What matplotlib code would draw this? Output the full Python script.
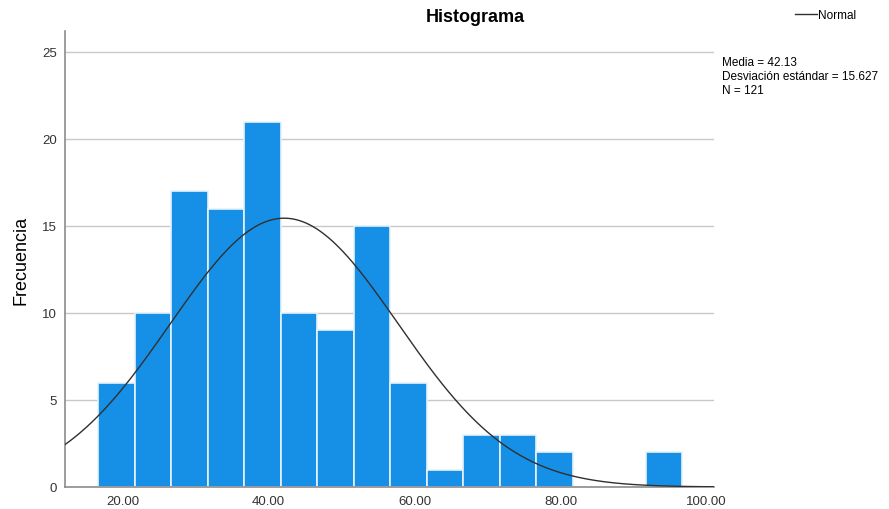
import numpy as np
import matplotlib.pyplot as plt

plt.rcParams['font.family'] = ['Liberation Sans', 'DejaVu Sans']

# frecuencias por intervalo (ancho 5)
inicio_bins = 16.65
ancho_bin = 5.0
frecuencias = [6, 10, 17, 16, 21, 10, 9, 15, 6, 1, 3, 3, 2, 0, 0, 2]
media = 42.13
desv = 15.627
n = 121
x_ticks = [20, 40, 60, 80, 100]
y_ticks = [0, 5, 10, 15, 20, 25]

bordes = inicio_bins + ancho_bin * np.arange(len(frecuencias))

fig = plt.figure(figsize=(8.89, 5.10), dpi=100)
ax = fig.add_axes([65 / 889, 22 / 510, (714 - 65) / 889, (488 - 32) / 510])

for y in y_ticks[1:]:
    ax.axhline(y, color='#c8c8c8', lw=1, zorder=0)

ax.bar(bordes, frecuencias, width=ancho_bin, align='edge',
       color='#1590e6', edgecolor='#e8f2fb', linewidth=1.2, zorder=2)

# curva normal
xs = np.linspace(12.1, 101, 400)
ys = n * ancho_bin / (desv * np.sqrt(2 * np.pi)) * np.exp(-0.5 * ((xs - media) / desv) ** 2)
ax.plot(xs, ys, color='#303030', lw=1, zorder=3)

ax.set_xlim(12.1, 101)
ax.set_ylim(0, 26.2)
ax.set_xticks(x_ticks)
ax.set_xticklabels([f"{v:.2f}" for v in x_ticks], fontsize=9.5)
ax.set_yticks(y_ticks)
ax.set_yticklabels([str(v) for v in y_ticks], fontsize=9.5)
ax.tick_params(length=0, pad=6, colors='#333333')
for s in ['top', 'right']:
    ax.spines[s].set_visible(False)
for s in ['left', 'bottom']:
    ax.spines[s].set_color('#8c8c8c')
    ax.spines[s].set_linewidth(1.2)

ax.set_ylabel('Frecuencia', fontsize=13, labelpad=9)

fig.text(475 / 889, 1 - 17 / 510, 'Histograma', fontsize=13, fontweight='bold',
         ha='center', va='center')

# leyenda
fig.add_artist(plt.Line2D([795 / 889, 817 / 889], [1 - 15 / 510] * 2, color='#303030', lw=1))
fig.text(818 / 889, 1 - 16 / 510, 'Normal', fontsize=8.5, ha='left', va='center')

fig.text(722 / 889, 1 - 57 / 510,
         f'Media = {media:.2f}\nDesviación estándar = {desv:.3f}\nN = {n}',
         fontsize=8.5, ha='left', va='top', linespacing=1.2)

fig.savefig('out.png', dpi=100)
